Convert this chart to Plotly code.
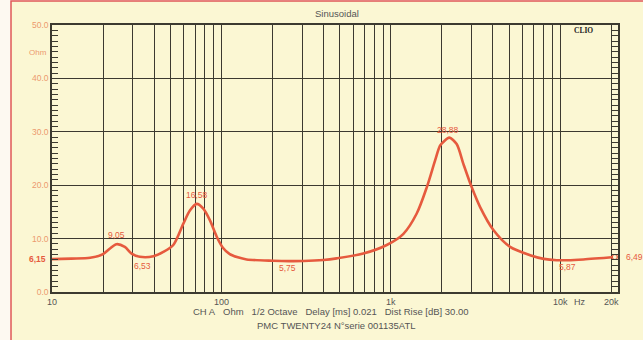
import numpy as np
import plotly.graph_objects as go

# ---- data ----
freq_hz = [10, 13, 16.8, 20, 22, 24, 26.9, 29.5, 33, 39.7, 45.4, 52, 59.6, 65.3,
           71.5, 78.2, 85.6, 93.7, 102, 112, 125, 141, 202, 250, 304, 400, 479,
           688, 946, 1187, 1422, 1630, 1824, 1952, 2042, 2215, 2447, 2680, 3004,
           3366, 4032, 5058, 6637, 8000, 9540, 11000, 13700, 21000]
impedance_ohm = [6.15, 6.25, 6.4, 7.1, 8.15, 8.95, 8.45, 7.2, 6.6, 6.7, 7.5, 8.8, 12.8, 15.3,
                 16.5, 15.6, 13.4, 10.4, 8.3, 7.1, 6.5, 6.1, 5.85, 5.78, 5.8, 6.0, 6.3,
                 7.2, 8.8, 10.9, 14.7, 19.6, 24.6, 27.4, 28.1, 28.9, 27.7, 24.0, 19.6,
                 15.9, 11.6, 8.45, 6.9, 6.2, 5.95, 5.95, 6.1, 6.55]

# marker labels: (text, frequency, impedance, vertical offset in px)
marker_labels = ["9,05", "6,53", "16,58", "5,75", "28,88", "5,87"]
marker_freqs = [24, 34, 71.5, 245, 2180, 11000]
marker_vals = [8.95, 6.6, 16.5, 5.8, 28.9, 5.95]
marker_shift = [9, -9, 9, -7, 8, -7]

x_grid = [m * 10 ** e for e in (1, 2, 3) for m in range(1, 10)] + [10000, 20000]
x_labels = {10: "10", 100: "100", 1000: "1k", 10000: "10k", 20000: "20k"}
y_ticks = [0, 10, 20, 30, 40, 50]
y_ticktext = ["0.0", "10.0", "20.0", "30.0", "40.0", "50.0"]

title_text = "Sinusoidal"
footer1 = "CH A\u00a0\u00a0 Ohm\u00a0\u00a0 1/2 Octave\u00a0\u00a0 Delay [ms] 0.021\u00a0\u00a0 Dist Rise [dB] 30.00"
footer2 = "PMC TWENTY24 N°serie 001135ATL"

RED = "#e65a3e"
ORANGE = "#ec9a6e"
GRID = "#3c3a30"
YELLOW = "#fbf7d3"
FONT = "Liberation Sans, Arial, sans-serif"

fig = go.Figure()
fig.add_trace(go.Scatter(
    x=freq_hz, y=impedance_ohm, mode="lines",
    line=dict(color=RED, width=2.6, shape="spline", smoothing=0.8),
    hoverinfo="skip", showlegend=False))
fig.add_trace(go.Scatter(
    x=[freq_hz[-1]], y=[impedance_ohm[-1]], mode="markers",
    marker=dict(size=5, color=YELLOW, line=dict(color=RED, width=1.2)),
    hoverinfo="skip", showlegend=False, cliponaxis=False))

annotations = []
for t, f, v, s in zip(marker_labels, marker_freqs, marker_vals, marker_shift):
    annotations.append(dict(x=np.log10(f), y=v, xref="x", yref="y", text=t,
                            showarrow=False, yshift=s, yanchor="middle",
                            font=dict(family=FONT, size=8.5, color=RED)))
annotations.append(dict(x=np.log10(freq_hz[-1]), y=impedance_ohm[-1], xref="x", yref="y",
                        text="6,49", showarrow=False, xanchor="left", xshift=9, yanchor="middle",
                        font=dict(family=FONT, size=8.5, color=RED)))
annotations.append(dict(x=0, y=impedance_ohm[0], xref="paper", yref="y", text="<b>6,15</b>",
                        showarrow=False, xanchor="right", xshift=-4, yanchor="middle",
                        font=dict(family=FONT, size=8.5, color=RED)))
annotations.append(dict(x=0, y=44.9, xref="paper", yref="y", text="Ohm",
                        showarrow=False, xanchor="right", xshift=-3, yanchor="middle",
                        font=dict(family=FONT, size=8, color=ORANGE)))
annotations.append(dict(x=0.959, y=48.9, xref="paper", yref="y", text="<b>CLIO</b>",
                        showarrow=False, yanchor="middle",
                        font=dict(family="Liberation Serif, DejaVu Serif, serif", size=7.5, color="#222")))
annotations.append(dict(x=4.117, y=(292 - 302) / 267, xref="x", yref="paper", text="Hz",
                        showarrow=False, yanchor="middle",
                        font=dict(family=FONT, size=9, color="#555")))
annotations.append(dict(x=(337 - 52) / 566, y=(292 - 14) / 267, xref="paper", yref="paper",
                        text=title_text, showarrow=False, yanchor="middle",
                        font=dict(family=FONT, size=9.5, color="#555")))
annotations.append(dict(x=(331 - 52) / 566, y=(292 - 311) / 267, xref="paper", yref="paper",
                        text=footer1, showarrow=False, yanchor="middle",
                        font=dict(family=FONT, size=9.5, color="#555")))
annotations.append(dict(x=(336 - 52) / 566, y=(292 - 325) / 267, xref="paper", yref="paper",
                        text=footer2, showarrow=False, yanchor="middle",
                        font=dict(family=FONT, size=9.5, color="#555")))

fig.update_layout(
    width=643, height=340,
    margin=dict(l=52, r=25, t=25, b=48),
    paper_bgcolor="#fdf9f1",
    plot_bgcolor=YELLOW,
    showlegend=False,
    annotations=annotations,
    shapes=[dict(type="rect", xref="paper", yref="paper", layer="below",
                 x0=(11 - 52) / 566, x1=(660 - 52) / 566,
                 y0=(292 - 360) / 267, y1=(292 - 1) / 267,
                 fillcolor=YELLOW, line=dict(color="#e05858", width=1.5))],
)
fig.update_xaxes(
    type="log", range=[1, 4.341],
    tickvals=x_grid, ticktext=[x_labels.get(v, "") for v in x_grid],
    showgrid=True, gridcolor=GRID, gridwidth=1.4,
    ticks="", showline=True, mirror=True, linecolor=GRID, linewidth=1.6,
    zeroline=False, tickfont=dict(family=FONT, size=9, color="#555"))
fig.update_yaxes(
    range=[0, 50], tickvals=y_ticks, ticktext=y_ticktext,
    showgrid=True, gridcolor=GRID, gridwidth=1.4,
    ticks="inside", ticklen=6, tickcolor=GRID,
    minor=dict(dtick=1, ticks="inside", ticklen=6, tickcolor=GRID, showgrid=False),
    showline=True, mirror="allticks", linecolor=GRID, linewidth=1.6,
    zeroline=False, tickfont=dict(family=FONT, size=8.5, color=ORANGE))

fig.write_html(
    "out.html",
    config={"displayModeBar": False},
    post_script="document.body.style.margin='0';document.body.style.overflow='hidden';"
                "document.body.style.background='#fdf9f1';")
